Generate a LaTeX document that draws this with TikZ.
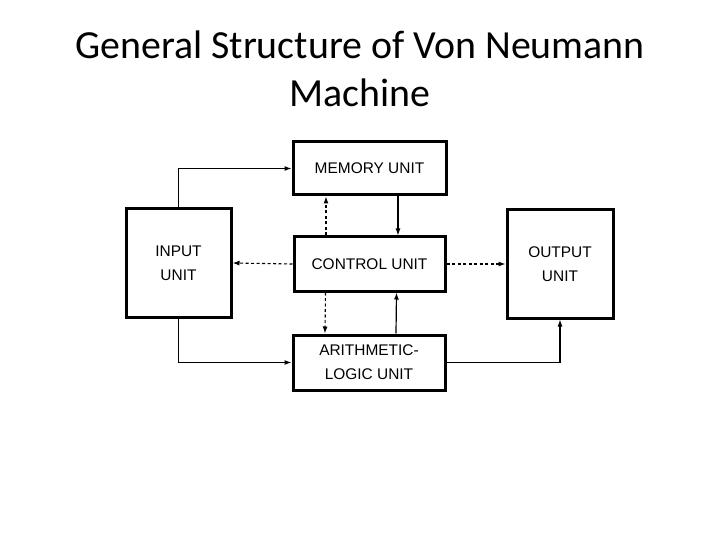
\documentclass[tikz,border=0pt]{standalone}
\usepackage{fontspec}
\setmainfont{Carlito}
\newfontfamily\boxfont{Liberation Sans}
\usetikzlibrary{arrows.meta}
\begin{document}
\begin{tikzpicture}[x=1bp, y=-1bp,
  unit/.style={draw, line width=3bp, align=center, font=\boxfont\fontsize{15.5}{24}\selectfont, inner sep=0pt},
  flow/.style={-{Latex[length=7bp,width=5bp]}, line width=1.2bp},
  ctrl/.style={-{Latex[length=7bp,width=5bp]}, line width=1.1bp, dash pattern=on 3bp off 2.5bp}]

\useasboundingbox (0,0) rectangle (720,540);

% Title
\node[font=\fontsize{40}{48}\selectfont, align=center] (title) at (360,69) {General Structure of Von Neumann\\Machine};

% Units
\node[unit, minimum width=153bp, minimum height=53bp] (mem) at (369.5,168.5) {MEMORY UNIT};
\node[unit, minimum width=151bp, minimum height=54bp] (cu) at (369.5,264) {CONTROL UNIT};
\node[unit, minimum width=152bp, minimum height=55bp] (alu) at (369,362.5) {ARITHMETIC-\\LOGIC UNIT};
\node[unit, minimum width=105bp, minimum height=108bp] (in) at (178.5,263) {INPUT\\UNIT};
\node[unit, minimum width=106bp, minimum height=108bp] (out) at (560,264) {OUTPUT\\UNIT};

% Data paths
\draw[flow] (in.north) |- (mem.west);
\draw[flow] (in.south) |- (alu.west);
\draw[flow] (alu.east) -| (out.south);
\draw[flow] ([xshift=28.5bp]mem.south) -- ([xshift=28.5bp]cu.north);
\draw[flow] ([xshift=27bp]alu.north) -- ([xshift=27bp]cu.south);

% Control signals
\draw[ctrl] ([xshift=-43.5bp]cu.north) -- ([xshift=-43.5bp]mem.south);
\draw[ctrl] ([xshift=-44bp]cu.south) -- ([xshift=-44bp]alu.north);
\draw[ctrl] (cu.west) -- (in.east);
\draw[ctrl] (cu.east) -- (out.west);

\end{tikzpicture}
\end{document}
